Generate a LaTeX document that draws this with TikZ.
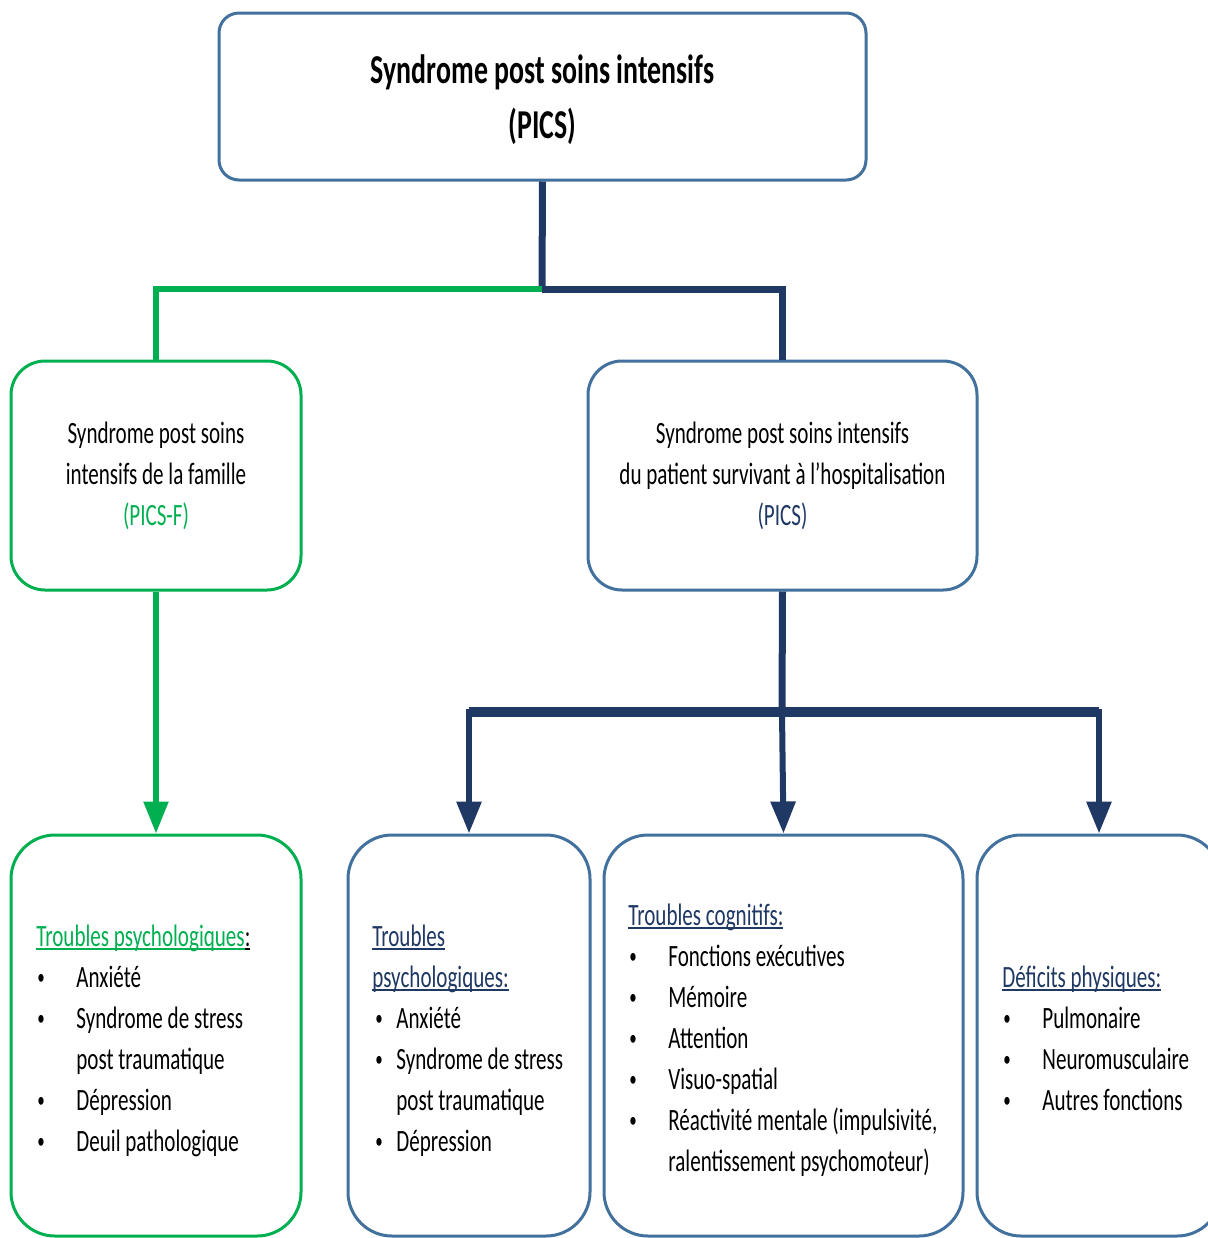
\documentclass[tikz,border=0pt]{standalone}
\usepackage{fontspec}
\setmainfont{Carlito}[FakeStretch=0.68]
\usetikzlibrary{arrows.meta,fit}
\definecolor{BoxBlue}{HTML}{41719C}
\definecolor{Navy}{HTML}{1F3864}
\definecolor{PicsGreen}{HTML}{00B050}
\newcommand{\souligne}[1]{\setbox0\hbox{#1}\rlap{\rule[-0.14em]{\wd0}{0.07em}}\box0}
\newcommand{\puce}{\raisebox{1.2pt}{\fontsize{11}{11}\selectfont\textbullet}}

\begin{document}
\begin{tikzpicture}[x=0.5pt,y=-0.5pt,
  boxblue/.style={draw=BoxBlue, line width=1.5pt, fill=white, inner sep=0pt},
  boxgreen/.style={boxblue, draw=PicsGreen},
  navyline/.style={draw=Navy, line width=3.5pt},
  greenline/.style={draw=PicsGreen, line width=3.2pt},
  pointe/.style={-{Triangle[width=12pt,length=16pt]}},
  titre/.style={align=center, inner sep=0pt, font=\fontsize{15.5}{20.5}\selectfont},
  txt/.style={anchor=base west, inner sep=0pt, font=\fontsize{15.5}{20.5}\selectfont},
  entete/.style={txt, text=Navy}]
\clip (0,0) rectangle (1208,1238);
\fill[white] (0,0) rectangle (1208,1238);
% top box and the two syndromes
\node[boxblue, rounded corners=10pt, fit={(219,13) (866,180)}] (pics) {};
\node[boxgreen, rounded corners=17pt, fit={(11,361) (301,590)}] (picsf) {};
\node[boxblue, rounded corners=17pt, fit={(588,361) (977,590)}] (picsp) {};
\node[titre, font=\fontsize{20.5}{27.5}\selectfont\bfseries] (picst) at ([yshift=-1.5pt]pics.center) {Syndrome post soins intensifs\\(PICS)};
\node[titre] (picsft) at (picsf.center) {Syndrome post soins\\intensifs de la famille\\\textcolor{PicsGreen}{(PICS-F)}};
\node[titre] (picspt) at (picsp.center) {Syndrome post soins intensifs\\du patient survivant à l’hospitalisation\\\textcolor{Navy}{(PICS)}};
% bottom boxes
\node[boxgreen, rounded corners=22pt, fit={(11,835) (301,1236)}] (psyf) {};
\node[boxblue, rounded corners=22pt, fit={(348,835) (590,1236)}] (psyp) {};
\node[boxblue, rounded corners=22pt, fit={(604,835) (963,1236)}] (cogn) {};
\node[boxblue, rounded corners=22pt, fit={(977,835) (1221,1236)}] (phys) {};
% connectors
\coordinate (branch) at (542,289);
\coordinate (split) at (782,712);
\draw[navyline] (pics.south) -- (branch);
\draw[greenline] (branch) -| (picsf.north);
\draw[navyline] (branch) -| (picsp.north);
\draw[greenline, line width=2.8pt, pointe] (picsf.south) -- (psyf.north);
\draw[navyline] (picsp.south) -- (split);
\draw[Navy, line width=4.8pt] (psyp.north |- split) -- (phys.north |- split);
\draw[navyline, line width=3pt, pointe] (split) -| (psyp.north);
\draw[navyline, line width=3pt, pointe] (split) -- (cogn.north |- psyp.north);
\draw[navyline, line width=3pt, pointe] (split) -| (phys.north);
% famille
\node[txt, text=PicsGreen] (hf) at (36,946) {\souligne{Troubles psychologiques}\textcolor{black}{\souligne{:}}};
\foreach \p/\t [count=\i] in {1/Anxiété, 1/Syndrome de stress, 0/post traumatique, 1/Dépression, 1/Deuil pathologique}{
  \node[txt] (fi\i) at (76,{946+41*\i}) {\t};
  \ifnum\p=1 \node[txt] (fb\i) at (37,{946+41*\i}) {\puce};\fi
}
% patient : psychologique
\node[entete] (hp1) at (372,946) {\souligne{Troubles}};
\node[entete] (hp2) at (372,987) {\souligne{psychologiques:}};
\foreach \p/\t [count=\i] in {1/Anxiété, 1/Syndrome de stress, 0/post traumatique, 1/Dépression}{
  \node[txt] (pi\i) at (396,{987+41*\i}) {\t};
  \ifnum\p=1 \node[txt] (pb\i) at (375,{987+41*\i}) {\puce};\fi
}
% patient : cognitif
\node[entete] (hc) at (628,925) {\souligne{Troubles cognitifs:}};
\foreach \p/\t [count=\i] in {1/Fonctions exécutives, 1/Mémoire, 1/Attention, 1/Visuo-spatial, 1/{Réactivité mentale (impulsivité,}, 0/ralentissement psychomoteur)}{
  \node[txt] (ci\i) at (668,{925+41*\i}) {\t};
  \ifnum\p=1 \node[txt] (cb\i) at (629,{925+41*\i}) {\puce};\fi
}
% patient : physique
\node[entete] (hd) at (1002,987) {\souligne{Déficits physiques:}};
\foreach \t [count=\i] in {Pulmonaire, Neuromusculaire, Autres fonctions}{
  \node[txt] (di\i) at (1042,{987+41*\i}) {\t};
  \node[txt] (db\i) at (1003,{987+41*\i}) {\puce};
}
\end{tikzpicture}
\end{document}
